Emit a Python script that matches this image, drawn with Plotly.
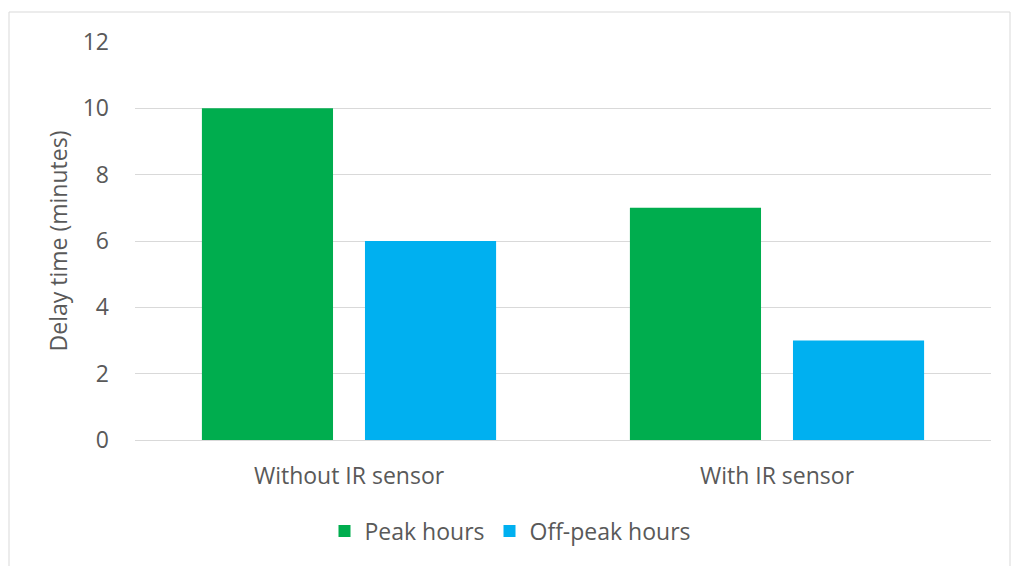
import plotly.graph_objects as go

categories = ["Without IR sensor", "With IR sensor"]
peak_hours = [10, 7]
off_peak_hours = [6, 3]
y_ticks = [0, 2, 4, 6, 8, 10, 12]

TEXT = "#595959"
GRID = "#d9d9d9"
FONT = "Open Sans"
FS = 23

fig = go.Figure()
fig.add_trace(go.Bar(name="Peak hours", x=categories, y=peak_hours,
                     marker=dict(color="#00ad4e", line=dict(width=0))))
fig.add_trace(go.Bar(name="Off-peak hours", x=categories, y=off_peak_hours,
                     marker=dict(color="#00b0f0", line=dict(width=0))))

L, R, T, B = 135, 29, 42, 126
W, H = 1020, 566
pw, ph = W - L - R, H - T - B

fig.update_layout(
    width=W, height=H,
    margin=dict(l=L, r=R, t=T, b=B),
    paper_bgcolor="white", plot_bgcolor="white",
    barmode="group", bargap=0.238, bargroupgap=0.196,
    font=dict(family=FONT, size=FS, color=TEXT),
    showlegend=True,
    legend=dict(orientation="h", x=(510 - L) / pw, xanchor="center",
                y=(H - B - 531) / ph, yanchor="middle",
                font=dict(size=FS, color=TEXT), itemwidth=30),
    xaxis=dict(showgrid=False, showline=True, linecolor=GRID, linewidth=1,
               ticks="", tickfont=dict(size=FS, color=TEXT), ticklabelstandoff=15),
    yaxis=dict(range=[0, 12], tickvals=y_ticks, showgrid=True, gridcolor=GRID,
               gridwidth=1, zeroline=False, showline=False, ticks="",
               tickfont=dict(size=FS, color=TEXT), ticklabelstandoff=25,
               title=dict(text="Delay time (minutes)", font=dict(size=FS, color=TEXT),
                          standoff=8)),
    shapes=[dict(type="rect", xref="paper", yref="paper",
                 x0=(9 - L) / pw, x1=(1010 - L) / pw,
                 y0=(H - B - 572) / ph, y1=(H - B - 12) / ph,
                 line=dict(color=GRID, width=1), fillcolor="rgba(0,0,0,0)", layer="below")],
)

fig.write_html("out.html")
